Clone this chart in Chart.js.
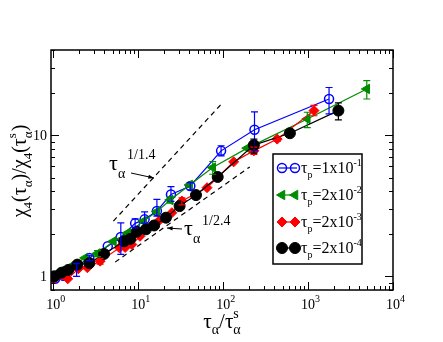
<!DOCTYPE html>
<html>
<head>
<meta charset="utf-8">
<script src="https://cdn.jsdelivr.net/npm/chart.js@4/dist/chart.umd.min.js"></script>
<style>
  body { margin: 0; background: #fff; }
  canvas { display: block; }
</style>
</head>
<body>
<canvas id="myChart" width="443" height="342"></canvas>
<script>
// Data (tau_alpha/tau_alpha^s vs chi4 ratio)
const blueX = [1.05, 1.31, 1.88, 2.66, 4.38, 6.24, 9.2, 11.9, 16.6, 24.3, 41.1, 94.6, 234, 1766];
const blueY = [0.96, 1.01, 1.18, 1.35, 1.63, 1.90, 2.37, 2.53, 2.90, 3.80, 4.36, 7.73, 10.9, 18.0];
const greenX = [1.05, 1.23, 1.75, 2.37, 3.31, 5.11, 7.54, 11.6, 16.6, 23.8, 40.3, 75.4, 192, 979, 4913];
const greenY = [1.0, 1.09, 1.21, 1.35, 1.45, 1.77, 2.03, 2.46, 2.87, 3.47, 4.43, 5.89, 8.08, 13.0, 21.2];
const redX = [1.03, 1.48, 1.97, 2.52, 3.56, 6.01, 7.02, 8.41, 10.5, 12.9, 17.4, 24.9, 32.7, 64.6, 133, 230, 433, 1174];
const redY = [0.96, 0.96, 1.13, 1.15, 1.28, 1.59, 1.60, 1.68, 1.92, 2.21, 2.46, 2.82, 3.41, 4.24, 6.46, 7.73, 9.36, 14.9];
const blackX = [1.03, 1.25, 1.50, 1.92, 2.66, 3.96, 6.83, 8.04, 9.63, 12.3, 15.4, 21.2, 30.7, 47.9, 86.3, 230, 611, 2275];
const blackY = [1.0, 1.06, 1.11, 1.21, 1.24, 1.44, 1.77, 1.84, 2.07, 2.15, 2.29, 2.60, 3.14, 3.76, 5.05, 8.49, 10.3, 14.9];

// error bars: [x, low, high]
const blueErr = [[1.88, 1.0, 1.23], [2.66, 1.29, 1.41], [6.24, 1.43, 2.39], [9.2, 2.2, 2.55], [11.9, 2.38, 2.86],
  [16.6, 2.67, 3.51], [24.3, 3.39, 4.31], [41.1, 4.1, 4.6], [94.6, 7.13, 8.4], [234, 7.73, 14.6], [1766, 14.1, 21.7]];
const greenErr = [[3.31, 1.38, 1.52], [23.8, 3.3, 3.65], [75.4, 5.28, 6.5], [979, 11.3, 14.5], [4913, 18.0, 24.3]];
const redErr = [[3.56, 1.22, 1.34], [32.7, 3.2, 3.6], [230, 7.3, 8.2], [433, 9.0, 9.7], [1174, 13.7, 16.2]];
const blackErr = [[230, 7.45, 9.36], [2275, 12.8, 16.9]];

// guide lines (power laws 1/1.4 and 1/2.4)
const guide1X = [5.1, 100];
const guide1Y = [2.46, 17.1];
const guide2X = [5.35, 206];
const guide2Y = [1.26, 5.95];

const xTickExp = [0, 1, 2, 3, 4];
const yTickVals = [1, 10];
const legendNames = ["1x10", "2x10", "2x10", "2x10"];
const legendExp = ["-1", "-2", "-3", "-4"];

const serif = "'Liberation Serif', 'DejaVu Serif', serif";

function pts(xs, ys) {
  return xs.map((x, i) => ({ x: x, y: ys[i] }));
}

// draw text made of parts: [text, kind] kind = n / sub / sup / ss ([sub, sup])
function richWidth(ctx, parts, size) {
  let w = 0;
  parts.forEach((p) => {
    if (p[1] == "n") {
      ctx.font = size + "px " + serif;
      w += ctx.measureText(p[0]).width;
    } else {
      ctx.font = Math.round(size * 0.65) + "px " + serif;
      if (p[1] == "ss") {
        w += Math.max(ctx.measureText(p[0][0]).width, ctx.measureText(p[0][1]).width);
      } else {
        w += ctx.measureText(p[0]).width;
      }
    }
  });
  return w;
}
function drawRich(ctx, parts, x, y, size, align) {
  let w = richWidth(ctx, parts, size);
  let cx = x;
  if (align == "center") cx = x - w / 2;
  if (align == "right") cx = x - w;
  ctx.textAlign = "left";
  ctx.textBaseline = "alphabetic";
  parts.forEach((p) => {
    if (p[1] == "n") {
      ctx.font = size + "px " + serif;
      ctx.fillText(p[0], cx, y);
      cx += ctx.measureText(p[0]).width;
    } else {
      ctx.font = Math.round(size * 0.65) + "px " + serif;
      if (p[1] == "sub") {
        ctx.fillText(p[0], cx, y + size * 0.3);
        cx += ctx.measureText(p[0]).width;
      } else if (p[1] == "sup") {
        ctx.fillText(p[0], cx, y - size * 0.45);
        cx += ctx.measureText(p[0]).width;
      } else {
        ctx.fillText(p[0][0], cx, y + size * 0.3);
        ctx.fillText(p[0][1], cx, y - size * 0.5);
        cx += Math.max(ctx.measureText(p[0][0]).width, ctx.measureText(p[0][1]).width);
      }
    }
  });
}

function arrow(ctx, x1, y1, x2, y2) {
  ctx.beginPath();
  ctx.moveTo(x1, y1);
  ctx.lineTo(x2, y2);
  ctx.stroke();
  let a = Math.atan2(y2 - y1, x2 - x1);
  ctx.beginPath();
  ctx.moveTo(x2, y2);
  ctx.lineTo(x2 - 6 * Math.cos(a - 0.35), y2 - 6 * Math.sin(a - 0.35));
  ctx.lineTo(x2 - 6 * Math.cos(a + 0.35), y2 - 6 * Math.sin(a + 0.35));
  ctx.closePath();
  ctx.fill();
}

const errorBars = {
  id: "errorBars",
  afterDatasetsDraw(chart) {
    const ctx = chart.ctx;
    const sx = chart.scales.x, sy = chart.scales.y;
    const sets = [[blueErr, "#0000ff"], [greenErr, "#008b00"], [redErr, "#ff0000"], [blackErr, "#000000"]];
    ctx.save();
    ctx.lineWidth = 1.2;
    sets.forEach((s) => {
      ctx.strokeStyle = s[1];
      s[0].forEach((e) => {
        let px = sx.getPixelForValue(e[0]);
        let lo = sy.getPixelForValue(e[1]);
        let hi = sy.getPixelForValue(e[2]);
        ctx.beginPath();
        ctx.moveTo(px, lo); ctx.lineTo(px, hi);
        ctx.moveTo(px - 3.5, lo); ctx.lineTo(px + 3.5, lo);
        ctx.moveTo(px - 3.5, hi); ctx.lineTo(px + 3.5, hi);
        ctx.stroke();
      });
    });
    ctx.restore();
  },
};

const frame = {
  id: "frame",
  afterDraw(chart) {
    const ctx = chart.ctx;
    const a = chart.chartArea;
    const sx = chart.scales.x, sy = chart.scales.y;
    ctx.save();
    ctx.strokeStyle = "#000";
    ctx.fillStyle = "#000";
    ctx.lineWidth = 1.5;
    ctx.strokeRect(a.left, a.top, a.right - a.left, a.bottom - a.top);

    // ticks, inward on all sides
    ctx.lineWidth = 1;
    for (let k = -1; k <= 4; k++) {
      for (let m = 1; m <= 9; m++) {
        let v = m * Math.pow(10, k);
        let len = m == 1 ? 8 : 4;
        if (v >= sx.min && v <= sx.max) {
          let px = Math.round(sx.getPixelForValue(v)) + 0.5;
          ctx.beginPath();
          ctx.moveTo(px, a.bottom); ctx.lineTo(px, a.bottom - len);
          ctx.moveTo(px, a.top); ctx.lineTo(px, a.top + len);
          ctx.stroke();
        }
        if (v >= sy.min && v <= sy.max) {
          let py = Math.round(sy.getPixelForValue(v)) + 0.5;
          ctx.beginPath();
          ctx.moveTo(a.left, py); ctx.lineTo(a.left + len, py);
          ctx.moveTo(a.right, py); ctx.lineTo(a.right - len, py);
          ctx.stroke();
        }
      }
    }

    // tick labels
    xTickExp.forEach((e) => {
      let px = sx.getPixelForValue(Math.pow(10, e));
      ctx.font = "14px " + serif;
      ctx.textAlign = "center";
      ctx.fillText("10", px, 309);
      let w = ctx.measureText("10").width;
      ctx.font = "10px " + serif;
      ctx.textAlign = "left";
      ctx.fillText(String(e), px + w / 2, 302);
    });
    yTickVals.forEach((v) => {
      let py = sy.getPixelForValue(v);
      ctx.font = "14px " + serif;
      ctx.textAlign = "right";
      ctx.fillText(String(v), a.left - 4, py + 5);
    });

    // axis titles
    drawRich(ctx, [["\u03c4", "n"], ["\u03b1", "sub"], ["/\u03c4", "n"], [["\u03b1", "s"], "ss"]], 222, 328, 21, "center");
    ctx.save();
    ctx.translate(26, 171);
    ctx.rotate(-Math.PI / 2);
    drawRich(ctx, [["\u03c7", "n"], ["4", "sub"], ["(\u03c4", "n"], ["\u03b1", "sub"], [")/\u03c7", "n"], ["4", "sub"],
      ["(\u03c4", "n"], [["\u03b1", "s"], "ss"], [")", "n"]], 0, 0, 20, "center");
    ctx.restore();

    // annotations
    ctx.font = "22px " + serif;
    ctx.textAlign = "left";
    ctx.fillText("\u03c4", 109, 170);
    ctx.font = "14px " + serif;
    ctx.fillText("\u03b1", 118, 178);
    ctx.fillText("1/1.4", 127, 159);
    arrow(ctx, 131, 173, 154, 178);
    ctx.font = "22px " + serif;
    ctx.fillText("\u03c4", 184, 235);
    ctx.font = "14px " + serif;
    ctx.fillText("\u03b1", 193, 243);
    ctx.fillText("1/2.4", 202, 225);
    arrow(ctx, 182, 229, 167, 228);

    // legend
    ctx.fillStyle = "#fff";
    ctx.fillRect(273, 154, 89, 110);
    ctx.lineWidth = 1.5;
    ctx.strokeRect(273, 154, 89, 110);
    const rows = [168, 195, 222, 248];
    chart.data.datasets.slice(0, 4).forEach((ds, i) => {
      let y = rows[i];
      ctx.strokeStyle = ds.borderColor;
      ctx.lineWidth = 1.2;
      ctx.beginPath();
      ctx.moveTo(279, y); ctx.lineTo(297, y);
      ctx.stroke();
      [282, 295].forEach((x) => {
        ctx.fillStyle = ds.pointBackgroundColor;
        ctx.strokeStyle = ds.borderColor;
        ctx.lineWidth = ds.pointBorderWidth;
        Chart.helpers.drawPoint(ctx, { pointStyle: ds.pointStyle, radius: ds.pointRadius, rotation: ds.pointRotation || 0, borderWidth: ds.pointBorderWidth }, x, y);
      });
      ctx.fillStyle = "#000";
      drawRich(ctx, [["\u03c4", "n"], ["p", "sub"], ["=" + legendNames[i], "n"], [legendExp[i], "sup"]], 301, y + 5, 16, "left");
    });
    ctx.restore();
  },
};

new Chart("myChart", {
  type: "scatter",
  data: {
    datasets: [
      {
        label: "tp=1x10-1",
        data: pts(blueX, blueY),
        showLine: true,
        borderColor: "#0000ff",
        borderWidth: 1.2,
        pointStyle: "circle",
        pointRadius: 4.5,
        pointBorderWidth: 1.5,
        pointBackgroundColor: "rgba(255,255,255,0)",
        pointBorderColor: "#0000ff",
        order: 4,
      },
      {
        label: "tp=2x10-2",
        data: pts(greenX, greenY),
        showLine: true,
        borderColor: "#008b00",
        borderWidth: 1.2,
        pointStyle: "triangle",
        pointRotation: -90,
        pointRadius: 5.5,
        pointBorderWidth: 1,
        pointBackgroundColor: "#008b00",
        pointBorderColor: "#008b00",
        order: 3,
      },
      {
        label: "tp=2x10-3",
        data: pts(redX, redY),
        showLine: true,
        borderColor: "#ff0000",
        borderWidth: 1.2,
        pointStyle: "rectRot",
        pointRadius: 5,
        pointBorderWidth: 1,
        pointBackgroundColor: "#ff0000",
        pointBorderColor: "#ff0000",
        order: 2,
      },
      {
        label: "tp=2x10-4",
        data: pts(blackX, blackY),
        showLine: true,
        borderColor: "#000000",
        borderWidth: 1.2,
        pointStyle: "circle",
        pointRadius: 5.5,
        pointBorderWidth: 1,
        pointBackgroundColor: "#000000",
        pointBorderColor: "#000000",
        order: 1,
      },
      {
        label: "slope 1/1.4",
        data: pts(guide1X, guide1Y),
        showLine: true,
        borderColor: "#000",
        borderWidth: 1.2,
        borderDash: [5, 4],
        pointRadius: 0,
        order: 5,
      },
      {
        label: "slope 1/2.4",
        data: pts(guide2X, guide2Y),
        showLine: true,
        borderColor: "#000",
        borderWidth: 1.2,
        borderDash: [5, 4],
        pointRadius: 0,
        order: 5,
      },
    ],
  },
  options: {
    responsive: false,
    animation: false,
    devicePixelRatio: 1,
    layout: { padding: { left: 51, right: 50, top: 50, bottom: 52 } },
    plugins: { legend: { display: false }, tooltip: { enabled: false } },
    scales: {
      x: { type: "logarithmic", min: 0.94, max: 10000, display: false },
      y: { type: "logarithmic", min: 0.8, max: 40, display: false },
    },
  },
  plugins: [errorBars, frame],
});
</script>
</body>
</html>
